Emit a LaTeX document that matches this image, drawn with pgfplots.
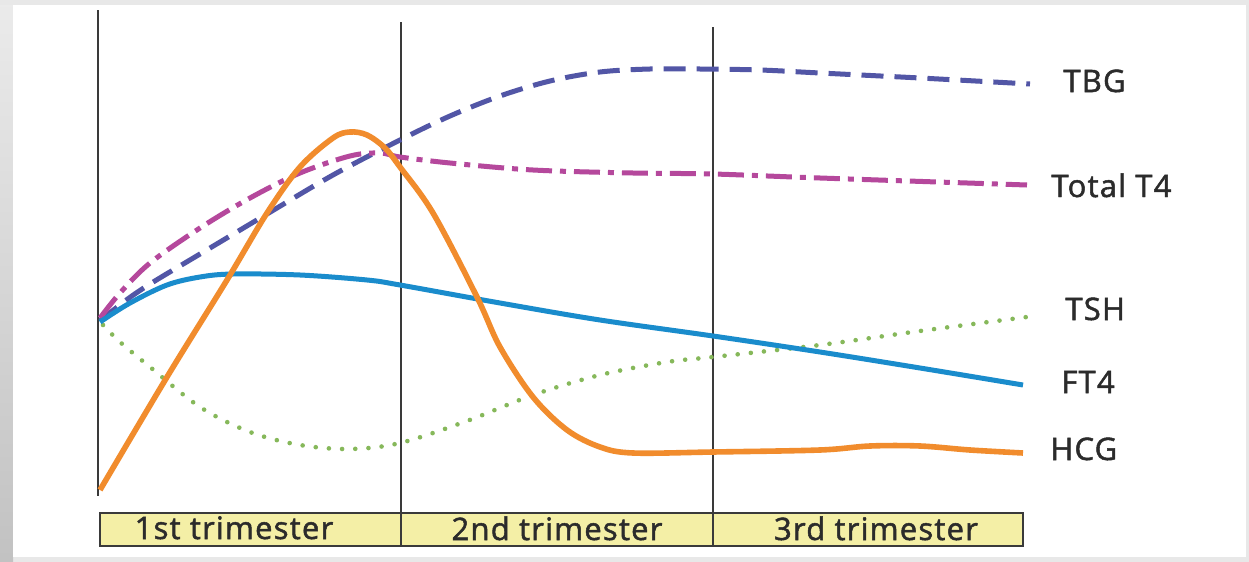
\documentclass[border=0pt]{standalone}
\usepackage{fontspec}
\setmainfont{Open Sans}[LetterSpace=4, FakeBold=1.6]
\usepackage{pgfplots}
\pgfplotsset{compat=1.18}

\definecolor{tbg}{HTML}{5256A6}
\definecolor{tt4}{HTML}{B5489C}
\definecolor{ftf}{HTML}{1A8CCC}
\definecolor{tsh}{HTML}{86B85A}
\definecolor{hcg}{HTML}{F18C2D}
\definecolor{rule}{HTML}{3A3A3A}
\definecolor{band}{HTML}{F4EFA6}
\definecolor{txt}{HTML}{2B2B2B}

\tikzset{lbl/.style={txt, inner sep=0, font=\fontsize{15.5}{18}\selectfont}}

\begin{document}
\begin{tikzpicture}
\begin{axis}[
    scale only axis,
    width=624.5pt, height=281pt,
    xmin=0, xmax=1249, ymin=0, ymax=562,
    y dir=reverse,
    hide axis, clip=false,
    every axis plot/.append style={smooth, tension=0.55, line join=round},
]
% frame of the screenshot
\fill[white!91!black] (axis cs:0,0) rectangle (axis cs:1249,562);
\shade[top color=white!92!black, bottom color=white!76!black]
    (axis cs:0,5) rectangle (axis cs:13,562);
\fill[white] (axis cs:13,5) rectangle (axis cs:1246,557);

% trimester band
\draw[rule, line width=1pt, fill=band] (axis cs:100,513) rectangle (axis cs:1023,546);
\node[lbl, anchor=base] at (axis cs:234,539) {1st trimester};
\node[lbl, anchor=base] at (axis cs:557,540) {2nd trimester};
\node[lbl, anchor=base] at (axis cs:876,540) {3rd trimester};

% trimester dividers
\draw[rule, line width=1pt] (axis cs:98,10) -- (axis cs:98,496);
\draw[rule, line width=1pt] (axis cs:401,22) -- (axis cs:401,546);
\draw[rule, line width=1pt] (axis cs:713,27) -- (axis cs:713,546);

% TBG
\addplot[tbg, line width=2.5pt, dash pattern=on 11pt off 5.5pt] coordinates {
  (100,321) (125,301) (150,284) (200,254) (267,214) (333,175) (400,140)
  (450,116) (500,96) (550,81) (600,72) (650,69) (700,69) (760,70)
  (820,73) (920,78) (1030,84)
};
% Total T4
\addplot[tt4, line width=2.5pt, dash pattern=on 13pt off 4pt on 3pt off 4pt] coordinates {
  (100,318) (120,293) (150,263) (200,228) (250,198) (300,173) (350,156)
  (380,153) (400,157) (450,163) (533,170) (633,173) (713,174)
  (820,178) (1027,185)
};
% TSH
\addplot[tsh, line width=2.3pt, line cap=round, dash pattern=on 0pt off 6.6pt] coordinates {
  (103,325) (120,342) (150,367) (200,407) (250,432) (300,445) (350,449)
  (400,443) (467,421) (533,395) (600,375) (667,362) (713,357) (820,345)
  (920,331) (1027,317)
};
% FT4
\addplot[ftf, line width=2.5pt] coordinates {
  (100,322) (130,303) (167,285) (200,277) (233,274) (300,275) (367,280)
  (400,285) (500,303) (600,320) (713,336) (820,352) (920,368) (1023,385)
};
% HCG
\addplot[hcg, line width=2.8pt] coordinates {
  (100,490) (167,377) (227,280) (267,213) (300,167) (333,138) (350,132)
  (367,135) (385,148) (400,167) (433,213) (477,297) (500,347) (533,397)
  (567,430) (600,447) (633,453) (713,452) (820,450) (870,446) (920,446)
  (970,450) (1023,453)
};

% series labels
\node[lbl, anchor=base west] at (axis cs:1063,92) {TBG};
\node[lbl, anchor=base west] at (axis cs:1051,197) {Total T4};
\node[lbl, anchor=base west] at (axis cs:1065,320) {TSH};
\node[lbl, anchor=base west] at (axis cs:1061,393) {FT4};
\node[lbl, anchor=base west] at (axis cs:1050,460) {HCG};
\end{axis}
\end{tikzpicture}
\end{document}
